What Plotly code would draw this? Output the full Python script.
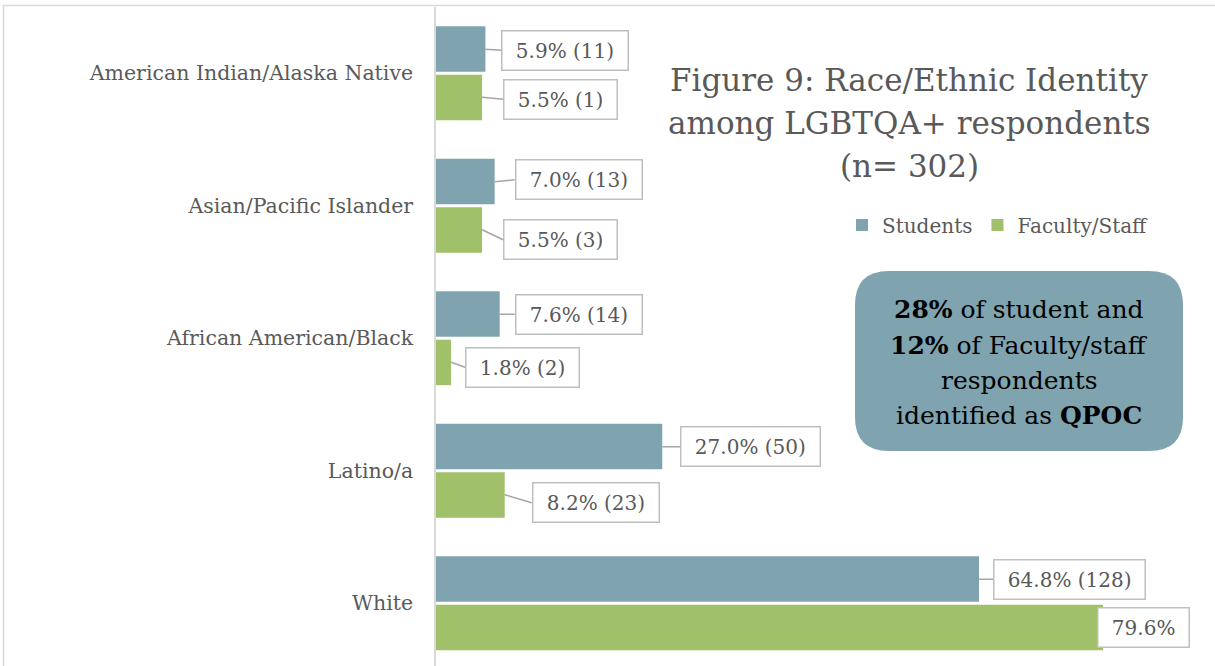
import plotly.graph_objects as go

categories = ["American Indian/Alaska Native", "Asian/Pacific Islander",
              "African American/Black", "Latino/a", "White"]
students_pct = [5.9, 7.0, 7.6, 27.0, 64.8]
students_n = [11, 13, 14, 50, 128]
faculty_pct = [5.5, 5.5, 1.8, 8.2, 79.6]
faculty_n = [1, 3, 2, 23, None]

title_lines = ["Figure 9: Race/Ethnic Identity", "among LGBTQA+ respondents", "(n= 302)"]
callout_lines = ["<b>28%</b> of student and", "<b>12%</b> of Faculty/staff",
                 "respondents", "identified as <b>QPOC</b>"]

# label layout (pixel offsets of label box from bar end)
stu_off = [(16, 1), (20, -2), (15, 0), (18, 0), (14, 0)]
fac_off = [(21, 2), (21, 10), (14, 5), (27, 8), (-6, 0)]

FONT = "DejaVu Serif"
C_STU = "#7FA4AF"
C_FAC = "#A0C06A"
GRAY = "#595959"

W, H = 1215, 666
ML, MR, MT, MB = 436, 2, 7, 0
PW, PH = W - ML - MR, H - MT - MB

ypos = list(range(len(categories)))

fig = go.Figure()
fig.add_trace(go.Bar(y=ypos, x=students_pct, orientation="h", name="Students",
                     marker=dict(color=C_STU, line=dict(width=0))))
fig.add_trace(go.Bar(y=ypos, x=faculty_pct, orientation="h", name="Faculty/Staff",
                     marker=dict(color=C_FAC, line=dict(width=0))))

px_per_cat = 132.5
ytop = -0.5
ybot = ytop + PH / px_per_cat
half = 24 / px_per_cat

ann = []
def fmt(p, n):
    s = f"{p:.1f}% ({n})" if n is not None else f"{p:.1f}%"
    return "&nbsp;" + s + "&nbsp;"

for i in range(len(categories)):
    for vals, ns, off, dy in ((students_pct, students_n, stu_off, -half),
                              (faculty_pct, faculty_n, fac_off, half)):
        ax, ay = off[i]
        ann.append(dict(x=vals[i], y=i + dy, xref="x", yref="y",
                        text=fmt(vals[i], ns[i]), showarrow=True, arrowhead=0,
                        arrowwidth=1.5,
                        arrowcolor="#A6A6A6" if ax > 0 else "rgba(0,0,0,0)",
                        ax=ax, ay=ay, xanchor="left", yanchor="middle",
                        font=dict(family=FONT, size=20, color=GRAY),
                        bgcolor="white", bordercolor="#BFBFBF", borderwidth=1.5,
                        borderpad=7))

def px2paper(xp, yp):
    return (xp - ML) / PW, 1 - (yp - MT) / PH

# title lines
for k, t in enumerate(title_lines):
    xx, yy = px2paper(909, 80 + 43 * k)
    ann.append(dict(x=xx, y=yy, xref="paper", yref="paper", text=t, showarrow=False,
                    xanchor="center", yanchor="middle",
                    font=dict(family=FONT, size=31, color=GRAY)))

# callout box
x0, y0 = px2paper(855, 451)
x1, y1 = px2paper(1183, 271)
rx, ry = 34 / PW, 34 / PH
path = (f"M {x0+rx},{y1} L {x1-rx},{y1} Q {x1},{y1} {x1},{y1-ry} "
        f"L {x1},{y0+ry} Q {x1},{y0} {x1-rx},{y0} L {x0+rx},{y0} "
        f"Q {x0},{y0} {x0},{y0+ry} L {x0},{y1-ry} Q {x0},{y1} {x0+rx},{y1} Z")
shapes = [dict(type="path", path=path, xref="paper", yref="paper",
               fillcolor=C_STU, line=dict(width=0), layer="above")]
for k, t in enumerate(callout_lines):
    xx, yy = px2paper(1019, 310 + 35 * k)
    ann.append(dict(x=xx, y=yy, xref="paper", yref="paper", text=t, showarrow=False,
                    xanchor="center", yanchor="middle",
                    font=dict(family=FONT, size=25, color="black")))

# outer chart border (right and bottom edges lie outside the view)
bx0, by1 = px2paper(3.5, 5.5)
bx1, by0 = px2paper(1230, 700)
shapes.append(dict(type="rect", xref="paper", yref="paper", x0=bx0, x1=bx1,
                   y0=by0, y1=by1, line=dict(color="#D9D9D9", width=1.5),
                   layer="below"))

lx, ly = px2paper(842, 225)

fig.update_layout(
    width=W, height=H,
    margin=dict(l=ML, r=MR, t=MT, b=MB, pad=0),
    paper_bgcolor="white", plot_bgcolor="white",
    barmode="group", bargap=0.27, bargroupgap=0.06,
    showlegend=True,
    legend=dict(orientation="h", x=lx, y=ly, xanchor="left", yanchor="middle",
                font=dict(family=FONT, size=20, color=GRAY),
                bgcolor="rgba(0,0,0,0)", itemwidth=30, tracegroupgap=0),
    xaxis=dict(range=[0, PW / 8.38], showgrid=False, zeroline=False,
               showticklabels=False, ticks="", showline=False, fixedrange=True),
    yaxis=dict(range=[ybot, ytop], tickmode="array", tickvals=ypos,
               ticktext=categories, showgrid=False, zeroline=False,
               showline=True, linecolor="#D9D9D9", linewidth=1.5, ticks="",
               ticklabelstandoff=17,
               tickfont=dict(family=FONT, size=20.5, color=GRAY)),
    annotations=ann, shapes=shapes,
    font=dict(family=FONT),
)

fig.write_html("out.html", config={"displayModeBar": False},
               post_script="document.body.style.margin='0';document.body.style.overflow='hidden';")
